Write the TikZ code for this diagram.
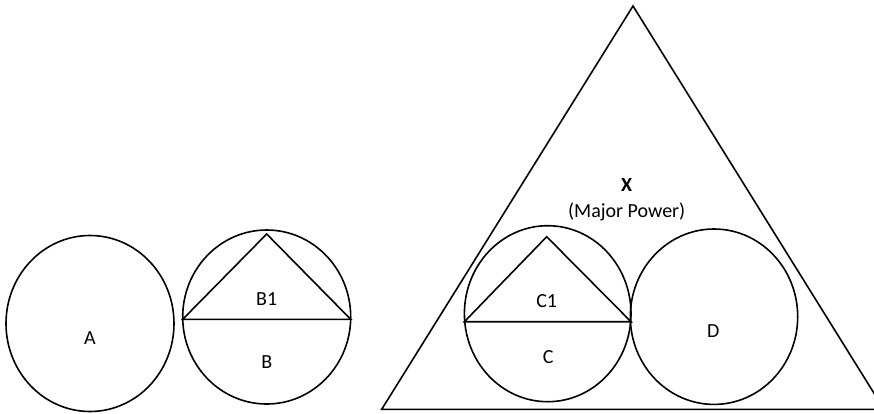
\documentclass[tikz,border=0pt]{standalone}
\usepackage{fontspec}
\setmainfont{Carlito}
\begin{document}
\begin{tikzpicture}[x=1pt,y=-1pt,
  shape line/.style={draw=black,line width=1.6pt,line join=miter},
  lbl/.style={font=\fontsize{20}{24}\selectfont,inner sep=0pt}]
\useasboundingbox (0,0) rectangle (874,413);
\clip (0,0) rectangle (874,413);
% big triangle X
\draw[shape line] (633,6) -- (884,409.3) -- (381.7,409.3) -- cycle;
% circle A
\draw[shape line] (90,323.5) ellipse [x radius=84, y radius=88];
% circle B with inscribed triangle B1
\draw[shape line] (266.7,317) ellipse [x radius=84, y radius=87];
\draw[shape line] (182.7,319.3) -- (266.7,234) -- (350.7,319.3) -- cycle;
% circle C with inscribed triangle C1
\draw[shape line] (547.7,313.7) ellipse [x radius=83.3, y radius=88];
\draw[shape line] (464.4,321.7) -- (546.7,236.7) -- (631,321.7) -- cycle;
% circle D
\draw[shape line] (714,316.7) ellipse [x radius=83.7, y radius=87.7];
% labels
\node[lbl] (la) at (90,338.3) {A};
\node[lbl] (lb1) at (266.7,299) {B1};
\node[lbl] (lb) at (266.7,361.7) {B};
\node[lbl] (lc1) at (546.7,300.7) {C1};
\node[lbl] (lc) at (548.3,357.3) {C};
\node[lbl] (ld) at (713.3,331) {D};
\node[lbl,font=\fontsize{20}{24}\selectfont\bfseries] (lx) at (626.7,185) {X};
\node[lbl] (lmp) at (626.7,211.7) {(Major Power)};
\end{tikzpicture}
\end{document}
